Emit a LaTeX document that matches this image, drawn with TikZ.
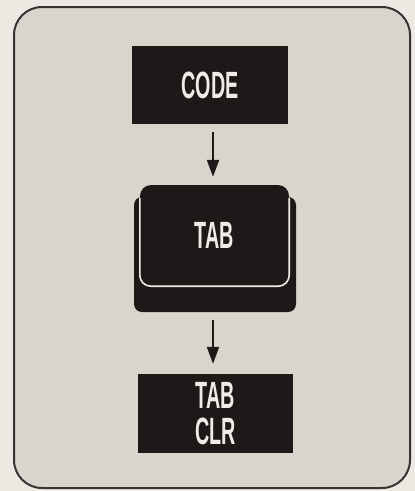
\documentclass[tikz,border=0pt]{standalone}
\usepackage{fontspec}
\newfontfamily\keyfont[FakeStretch=0.52]{Liberation Sans}
\usetikzlibrary{arrows.meta}
\definecolor{paper}{HTML}{ECE8E2}
\definecolor{panel}{HTML}{D8D5CD}
\definecolor{ink}{HTML}{1C1918}
\definecolor{frameline}{HTML}{383332}
\definecolor{keytext}{HTML}{EFECE6}
\tikzset{
  keyfontstyle/.style={font=\keyfont\bfseries\fontsize{38}{36}\selectfont},
  blackbox/.style={fill=ink, inner sep=0pt, text=keytext, keyfontstyle, align=center},
  keyback/.style={fill=ink, rounded corners=8pt, inner sep=0pt},
  keyline/.style={draw=keytext, line width=1.6pt, rounded corners=11pt},
  arr/.style={draw=ink, line width=2pt, -{Triangle[length=17pt,width=12pt]}}
}
\begin{document}
\begin{tikzpicture}[x=1pt,y=-1pt]
\useasboundingbox (0,0) rectangle (415,491);
\fill[paper] (0,0) rectangle (415,491);
\draw[frameline, line width=2pt, fill=panel, rounded corners=28pt] (14,7) rectangle (410,488);
\node[blackbox, minimum width=156pt, minimum height=78pt] (code) at (210,85) {CODE};
\node[keyback, minimum width=162pt, minimum height=115pt] (tabback) at (215,254.5) {};
\node[blackbox, rounded corners=11pt, minimum width=149pt, minimum height=101pt] (tab) at (214.5,235.5) {};
\draw[keyline] ([yshift=-13pt]tab.north west) -- (tab.south west) -- (tab.south east) -- ([yshift=-13pt]tab.north east);
\node[text=keytext, keyfontstyle] (tablabel) at (tab.center) {TAB};
\node[blackbox, minimum width=155pt, minimum height=79pt] (clr) at (215.5,413.5) {TAB\\CLR};
\draw[arr, shorten <=8pt, shorten >=8pt] (code.south -| 213,0) -- (tab.north -| 213,0);
\draw[arr, shorten <=8pt, shorten >=10pt] (tabback.south -| 213,0) -- (clr.north -| 213,0);
\end{tikzpicture}
\end{document}
